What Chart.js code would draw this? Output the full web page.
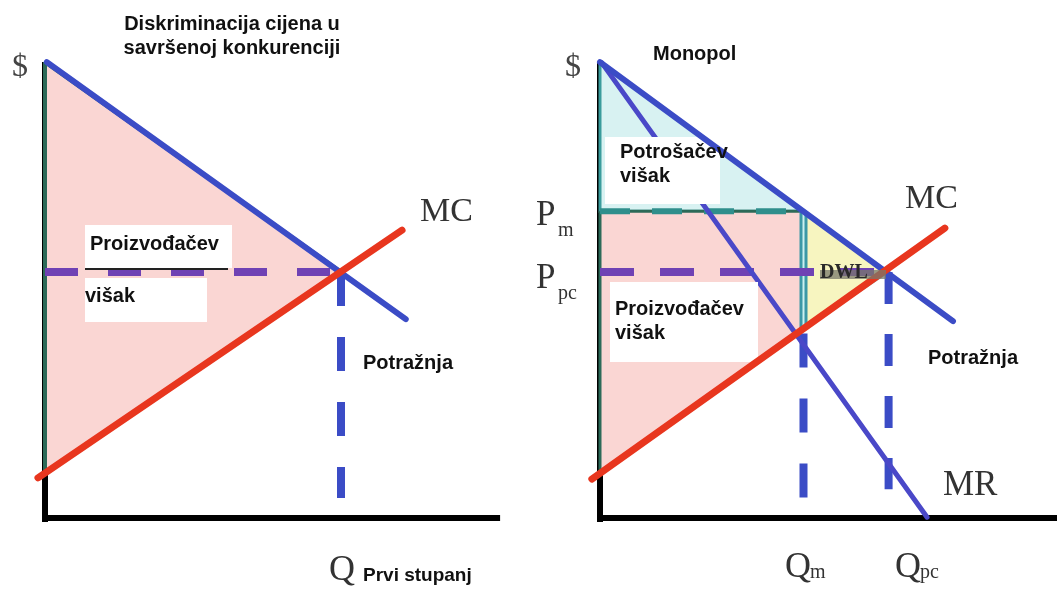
<!DOCTYPE html>
<html>
<head>
<meta charset="utf-8">
<script src="https://cdn.jsdelivr.net/npm/chart.js@4.4.1/dist/chart.umd.min.js"></script>
<style>
  html, body { margin: 0; padding: 0; background: #fff; }
  #wrap { position: relative; width: 1057px; height: 596px; overflow: hidden; }
  canvas { position: absolute; top: 0; }
  #left { left: 0; }
  #right { left: 528px; }
</style>
</head>
<body>
<div id="wrap">
  <canvas id="left" width="528" height="596"></canvas>
  <canvas id="right" width="529" height="596"></canvas>
</div>
<script>
// ============================================
// DATA (Q on x, price on y, arbitrary units)
// ============================================

// --- left: perfect price discrimination ---
const leftYAxis  = [{ x: 0, y: -0.1 }, { x: 0, y: 11.12 }];
const leftXAxis  = [{ x: -0.08, y: 0 }, { x: 12.3, y: 0 }];
const leftDemand = [{ x: 0.05, y: 11.12 }, { x: 9.75, y: 4.85 }];
const leftMC     = [{ x: -0.19, y: 0.98 }, { x: 9.65, y: 7.02 }];
const leftPrice  = [{ x: 0, y: 6 }, { x: 8, y: 6 }];
const leftQty    = [{ x: 8, y: 6 }, { x: 8, y: 0.49 }];
const leftSurplus = [{ x: 0, y: 11.12 }, { x: 8, y: 6 }, { x: 0, y: 1.1 }, { x: 0, y: 11.12 }];

// --- right: monopoly ---
const rightYAxis  = [{ x: 0, y: -0.1 }, { x: 0, y: 11.12 }];
const rightXAxis  = [{ x: -0.08, y: 0 }, { x: 12.5, y: 0 }];
const rightDemand = [{ x: 0, y: 11.12 }, { x: 9.54, y: 4.8 }];
const rightMR     = [{ x: 0.05, y: 11.1 }, { x: 8.84, y: 0.02 }];
const rightMC     = [{ x: -0.22, y: 0.95 }, { x: 9.32, y: 7.07 }];
const consumerSurplus = [{ x: 0, y: 11.12 }, { x: 5.5, y: 7.48 }, { x: 0, y: 7.48 }, { x: 0, y: 11.12 }];
const producerSurplus = [{ x: 0, y: 7.48 }, { x: 5.5, y: 7.48 }, { x: 5.5, y: 4.62 }, { x: 0, y: 1.09 }, { x: 0, y: 7.48 }];
const deadweight  = [{ x: 5.5, y: 7.48 }, { x: 7.8, y: 6 }, { x: 5.5, y: 4.62 }, { x: 5.5, y: 7.48 }];
const pmLine      = [{ x: 0, y: 7.48 }, { x: 5.5, y: 7.48 }];
const ppcLine     = [{ x: 0, y: 6 }, { x: 7.8, y: 6 }];
const qmUpper     = [{ x: 5.5, y: 7.48 }, { x: 5.5, y: 4.62 }];
const qmLower     = [{ x: 5.5, y: 4.5 }, { x: 5.5, y: 0.5 }];
const qpcLine     = [{ x: 7.8, y: 6 }, { x: 7.8, y: 0.7 }];

// ============================================
// HELPERS
// ============================================

const UNIT_X = 37, UNIT_Y = 41, ORIGIN_Y = 518, H = 596;
const SANS = '"Liberation Sans", Arial, sans-serif';
const SERIF = '"Liberation Serif", "Times New Roman", serif';

function scalesFor(originX, width) {
    return {
        x: { type: 'linear', display: false, min: -originX / UNIT_X, max: (width - originX) / UNIT_X },
        y: { type: 'linear', display: false, min: (ORIGIN_Y - H) / UNIT_Y, max: ORIGIN_Y / UNIT_Y }
    };
}

function seg(data, color, width, extra) {
    return Object.assign({
        data: data, borderColor: color, borderWidth: width,
        pointRadius: 0, tension: 0, fill: false, borderCapStyle: 'butt'
    }, extra || {});
}

function area(data, color, border, bw) {
    return { data: data, backgroundColor: color, borderColor: border, borderWidth: bw,
             pointRadius: 0, tension: 0, fill: 'shape' };
}

function drawBoxes(ctx, boxes) {
    boxes.forEach(b => {
        ctx.fillStyle = '#fff';
        ctx.fillRect(b[0], b[1], b[2] - b[0], b[3] - b[1]);
    });
}

const notesPlugin = {
    id: 'notes',
    beforeDatasetDraw(chart, args, opts) {
        if (args.index === opts.boxesUnder) drawBoxes(chart.ctx, opts.boxes);
    },
    afterDatasetsDraw(chart, args, opts) {
        const ctx = chart.ctx;
        ctx.save();
        if (opts.boxesUnder == null) drawBoxes(ctx, opts.boxes);
        (opts.rules || []).forEach(r => {
            ctx.fillStyle = r[4];
            ctx.fillRect(r[0], r[1], r[2] - r[0], r[3] - r[1]);
        });
        ctx.textBaseline = 'alphabetic';
        opts.texts.forEach(t => {
            ctx.font = t.f;
            ctx.fillStyle = t.c || '#111';
            ctx.textAlign = t.a || 'left';
            ctx.fillText(t.t, t.x, t.y);
        });
        ctx.restore();
    }
};

function makeChart(id, width, originX, datasets, notes) {
    const n = datasets.length;
    datasets.forEach((ds, i) => { ds.order = n - i; ds.clip = false; });
    return new Chart(document.getElementById(id), {
        type: 'line',
        data: { datasets: datasets },
        options: {
            responsive: false,
            devicePixelRatio: 1,
            animation: false,
            events: [],
            layout: { padding: 0 },
            scales: scalesFor(originX, width),
            plugins: { legend: { display: false }, tooltip: { enabled: false }, notes: notes }
        },
        plugins: [notesPlugin]
    });
}

// ============================================
// LEFT CHART
// ============================================

const BLUE = '#3b4cc6', RED = '#e8361e', PURPLE = '#6f42b4', TEAL = '#2f8f8c';

const leftSets = [
    seg(leftYAxis, '#000', 6),
    seg(leftXAxis, '#000', 6),
    area(leftSurplus, '#fad6d3', '#2c6a58', 4),
    seg(leftPrice, PURPLE, 8, { borderDash: [33, 30] }),
    seg(leftQty, BLUE, 8, { borderDash: [34, 31] }),
    seg(leftDemand, BLUE, 6, { borderCapStyle: 'round' }),
    seg(leftMC, RED, 7, { borderCapStyle: 'round' })
];

makeChart('left', 528, 45, leftSets, {
    boxes: [[85, 225, 232, 268], [85, 278, 207, 322]],
    rules: [[85, 268, 228, 270, '#222']],
    texts: [
        { t: 'Diskriminacija cijena u', x: 232, y: 30, f: 'bold 20px ' + SANS, a: 'center' },
        { t: 'savršenoj konkurenciji', x: 232, y: 54, f: 'bold 20px ' + SANS, a: 'center' },
        { t: '$', x: 12, y: 76, f: '32px ' + SERIF, c: '#444' },
        { t: 'MC', x: 420, y: 221, f: '34px ' + SERIF, c: '#333' },
        { t: 'Proizvođačev', x: 90, y: 250, f: 'bold 20px ' + SANS },
        { t: 'višak', x: 85, y: 302, f: 'bold 20px ' + SANS },
        { t: 'Potražnja', x: 363, y: 369, f: 'bold 20px ' + SANS },
        { t: 'Q', x: 329, y: 580, f: '36px ' + SERIF, c: '#333' },
        { t: 'Prvi stupanj', x: 363, y: 581, f: 'bold 19px ' + SANS }
    ]
});

// ============================================
// RIGHT CHART
// ============================================

const rightSets = [
    seg(rightYAxis, '#000', 6),
    seg(rightXAxis, '#000', 6),
    area(consumerSurplus, '#d8f2f2', '#3a9c9c', 3),
    area(producerSurplus, '#fad6d3', '#2c6a58', 3),
    area(deadweight, '#f7f5c0', '#7cc6c6', 2),
    seg(qmUpper, '#3a98a6', 8),
    seg(qmUpper, '#c9f0f0', 2),
    seg(pmLine, TEAL, 6, { borderDash: [30, 22] }),
    seg(ppcLine, PURPLE, 8, { borderDash: [34, 26] }),
    seg(qmLower, BLUE, 8, { borderDash: [34, 31] }),
    seg(qpcLine, BLUE, 8, { borderDash: [32, 30] }),
    seg(rightMR, '#4a48c8', 5, { borderCapStyle: 'round' }),
    seg(rightDemand, BLUE, 6, { borderCapStyle: 'round' }),
    seg(rightMC, RED, 7, { borderCapStyle: 'round' })
];

makeChart('right', 529, 72, rightSets, {
    boxesUnder: 12,
    boxes: [[77, 137, 192, 204], [82, 282, 230, 362]],
    rules: [[292, 270, 358, 279, 'rgba(120,120,108,0.75)']],
    texts: [
        { t: 'Monopol', x: 125, y: 60, f: 'bold 20px ' + SANS },
        { t: '$', x: 37, y: 76, f: '32px ' + SERIF, c: '#444' },
        { t: 'Potrošačev', x: 92, y: 158, f: 'bold 20px ' + SANS },
        { t: 'višak', x: 92, y: 182, f: 'bold 20px ' + SANS },
        { t: 'P', x: 8, y: 225, f: '35px ' + SERIF, c: '#333' },
        { t: 'm', x: 30, y: 236, f: '20px ' + SERIF, c: '#333' },
        { t: 'P', x: 8, y: 288, f: '35px ' + SERIF, c: '#333' },
        { t: 'pc', x: 30, y: 299, f: '20px ' + SERIF, c: '#333' },
        { t: 'MC', x: 377, y: 208, f: '34px ' + SERIF, c: '#333' },
        { t: 'DWL', x: 292, y: 278, f: 'bold 20px ' + SERIF, c: '#2a2a2a' },
        { t: 'Proizvođačev', x: 87, y: 315, f: 'bold 20px ' + SANS },
        { t: 'višak', x: 87, y: 339, f: 'bold 20px ' + SANS },
        { t: 'Potražnja', x: 400, y: 364, f: 'bold 20px ' + SANS },
        { t: 'MR', x: 415, y: 495, f: '35px ' + SERIF, c: '#333' },
        { t: 'Q', x: 257, y: 577, f: '36px ' + SERIF, c: '#333' },
        { t: 'm', x: 282, y: 578, f: '20px ' + SERIF, c: '#333' },
        { t: 'Q', x: 367, y: 577, f: '36px ' + SERIF, c: '#333' },
        { t: 'pc', x: 392, y: 578, f: '20px ' + SERIF, c: '#333' }
    ]
});
</script>
</body>
</html>
